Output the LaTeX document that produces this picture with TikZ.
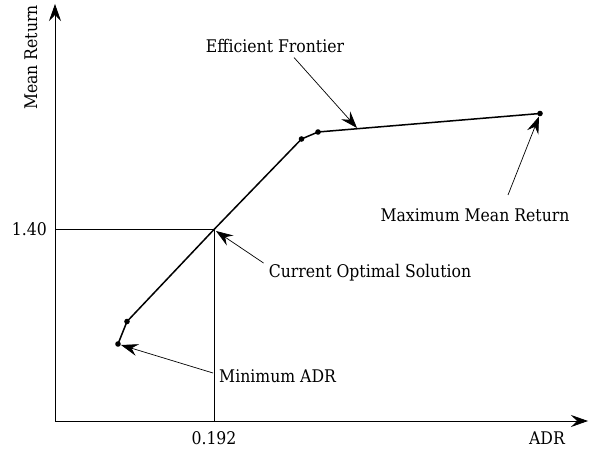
\documentclass[tikz,border=0pt]{standalone}
\usepackage{fontspec}
\setmainfont{DejaVu Serif Condensed}
\usetikzlibrary{arrows.meta}
\begin{document}
\begin{tikzpicture}[x=1bp,y=-1bp,
  lbl/.style={inner sep=0pt,font=\fontsize{17.5}{20}\selectfont},
  axis/.style={line width=0.8bp,-{Stealth[length=17bp,width=12bp,inset=6bp]}},
  guide/.style={line width=0.6bp},
  front/.style={line width=1.5bp,line join=round},
  ptr/.style={line width=0.7bp,-{Stealth[length=17bp,width=12bp,inset=6bp]}}]
\useasboundingbox (0,0) rectangle (589,450);
% axes
\coordinate (O) at (55,421);
\coordinate (ytip) at (55,4);
\coordinate (xtip) at (588,421);
\draw[axis] (O) -- (ytip);
\draw[axis] (O) -- (xtip);
% frontier points
\coordinate (p1) at (118,344);
\coordinate (p2) at (127,321.5);
\coordinate (p3) at (214,229.5);
\coordinate (p4) at (301.5,139);
\coordinate (p5) at (318,132);
\coordinate (p6) at (540,113.5);
% guides
\coordinate (gy) at (55,229.5);
\coordinate (gx) at (214,421);
\draw[guide] (gy) -- (p3) -- (gx);
% frontier
\draw[front] (p1) -- (p2) -- (p3) -- (p4) -- (p5) -- (p6);
\foreach \p in {p1,p2,p4,p5,p6} \fill (\p) circle[radius=2.8bp];
% labels
\node[lbl] (ylab) at (31,57.5) [rotate=90] {Mean Return};
\node[lbl] (xlab) at (547,438) {ADR};
\node[lbl,anchor=east] (v140) at (47,229.5) {1.40};
\node[lbl] (v192) at (214,438) {0.192};
\node[lbl] (ef) at (275,46) {Efficient Frontier};
\node[lbl] (mmr) at (475,215) {Maximum Mean Return};
\node[lbl] (cos) at (370,273) {Current Optimal Solution};
\node[lbl,anchor=west] (madr) at (219,376) {Minimum ADR};
% pointers
\coordinate (eft) at (294,57.5);
\coordinate (efh) at (357,128);
\coordinate (mmrt) at (508,195);
\coordinate (mmrh) at (539,116.5);
\coordinate (cost) at (263.5,263);
\coordinate (cosh) at (216,231);
\coordinate (madrt) at (213,373);
\coordinate (madrh) at (121,345);
\draw[ptr] (eft) -- (efh);
\draw[ptr] (mmrt) -- (mmrh);
\draw[ptr] (cost) -- (cosh);
\draw[ptr] (madrt) -- (madrh);
\end{tikzpicture}
\end{document}
